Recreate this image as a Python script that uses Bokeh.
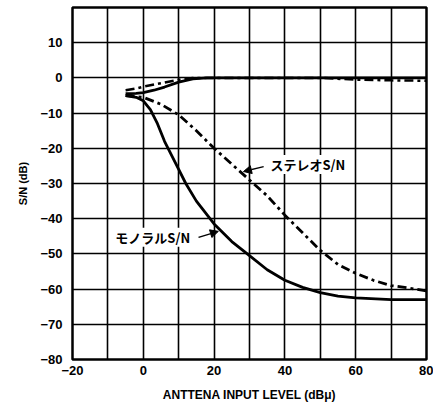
from bokeh.plotting import figure
from bokeh.models import Range1d, FixedTicker, Label, Arrow, NormalHead
from bokeh.embed import file_html
from bokeh.resources import INLINE

# ---- data ----
x_ticks = [-20, -10, 0, 10, 20, 30, 40, 50, 60, 70, 80]
x_tick_labels = {-20: "\u221220", -10: "", 0: "0", 10: "", 20: "20", 30: "", 40: "40",
                 50: "", 60: "60", 70: "", 80: "80"}
y_ticks = [-80, -70, -60, -50, -40, -30, -20, -10, 0, 10]
y_tick_labels = {10: "10", 0: "0", -10: "\u221210", -20: "\u221220", -30: "\u221230",
                 -40: "\u221240", -50: "\u221250", -60: "\u221260", -70: "\u221270",
                 -80: "\u221280"}

mono_sig_x = [-5, -2, 0, 3, 6, 10, 14, 18, 30, 40, 50, 60, 70, 80]
mono_sig_y = [-4.5, -4.4, -4.2, -3.5, -2.6, -1.2, -0.3, 0, 0, 0, 0, 0, 0, 0]

stereo_sig_x = [-5, -2, 0, 5, 10, 14, 20, 30, 40, 50, 60, 70, 80]
stereo_sig_y = [-3.5, -3.0, -2.5, -1.5, -0.5, 0, 0, 0, 0, 0, -0.5, -0.7, -0.8]

mono_sn_x = [-5, -2, 0, 2, 4, 6, 8, 10, 12, 15, 20, 25, 30, 35, 40, 45, 50, 55, 60, 70, 80]
mono_sn_y = [-5, -5.5, -6.5, -9, -13, -18, -22, -26, -30, -35, -41.5, -46.5, -50.5,
             -54.5, -57.5, -59.5, -61, -62, -62.5, -63, -63]

stereo_sn_x = [-5, 0, 5, 10, 15, 20, 25, 30, 35, 40, 45, 50, 55, 60, 65, 70, 75, 80]
stereo_sn_y = [-5, -5.5, -7.5, -10.5, -15, -20, -24.5, -29, -33.5, -39, -44, -49, -53,
               -55.5, -57.5, -59, -59.7, -60.5]

label_texts = ["ステレオS/N", "モノラルS/N"]
label_x = [35.9, -7.9]
label_y = [-24.6, -45.3]
arrow_start_x = [34.0, 15.6]
arrow_start_y = [-25.2, -45.3]
arrow_end_x = [28.3, 21.2]
arrow_end_y = [-26.6, -43.6]

x_label = "ANTTENA INPUT LEVEL (dB\u03bc)"
y_label = "S/N (dB)"

FONT = "Liberation Sans"
JFONT = "Noto Sans CJK JP"

p = figure(width=433, height=410, output_backend="svg", toolbar_location=None,
           x_range=Range1d(-20, 80), y_range=Range1d(-80, 20),
           min_border_left=72, min_border_right=7, min_border_top=7, min_border_bottom=51)
p.border_fill_color = "white"
p.outline_line_color = "black"
p.outline_line_width = 2.5

for ax in (p.xaxis, p.yaxis):
    ax.axis_line_color = None
    ax.major_tick_out = 0
    ax.major_tick_in = 0
    ax.minor_tick_out = 0
    ax.minor_tick_in = 0
    ax.major_label_text_font = FONT
    ax.major_label_text_font_style = "bold"
    ax.major_label_text_font_size = "13px"
    ax.major_label_text_color = "black"
    ax.axis_label_text_font = FONT
    ax.axis_label_text_font_style = "bold"
    ax.axis_label_text_color = "black"

xt = FixedTicker(ticks=x_ticks)
yt = FixedTicker(ticks=y_ticks)
p.xaxis.ticker = xt
p.xaxis.major_label_overrides = x_tick_labels
p.xaxis.major_label_standoff = 6
p.xaxis.axis_label = x_label
p.xaxis.axis_label_text_font_size = "12px"
p.xaxis.axis_label_standoff = 10

p.yaxis.ticker = yt
p.yaxis.major_label_overrides = y_tick_labels
p.yaxis.major_label_standoff = 10
p.yaxis.axis_label = y_label
p.yaxis.axis_label_text_font_size = "11px"
p.yaxis.axis_label_standoff = 8

xg = p.xgrid[0]
yg = p.ygrid[0]
xg.ticker = xt
yg.ticker = yt
for g in (xg, yg):
    g.grid_line_color = "#000000"
    g.grid_line_width = 1.6
    g.grid_line_alpha = 1.0
    g.level = "image"

p.line(mono_sig_x, mono_sig_y, line_color="black", line_width=2.8)
p.line(stereo_sig_x, stereo_sig_y, line_color="black", line_width=2.5, line_dash="9 4 3 4")
p.line(mono_sn_x, mono_sn_y, line_color="black", line_width=2.8)
p.line(stereo_sn_x, stereo_sn_y, line_color="black", line_width=2.8, line_dash="9 4 3 4")

for t, lx, ly in zip(label_texts, label_x, label_y):
    p.add_layout(Label(x=lx, y=ly, text=t, text_font=JFONT, text_font_style="bold",
                       text_font_size="13px", text_baseline="middle", text_align="left",
                       background_fill_color="white", text_color="black"))

for xs, ys, xe, ye in zip(arrow_start_x, arrow_start_y, arrow_end_x, arrow_end_y):
    p.add_layout(Arrow(end=NormalHead(size=8, fill_color="black", line_color="black"),
                       x_start=xs, y_start=ys, x_end=xe, y_end=ye,
                       line_color="black", line_width=1.5))

open("out.html", "w").write(file_html(p, INLINE))
